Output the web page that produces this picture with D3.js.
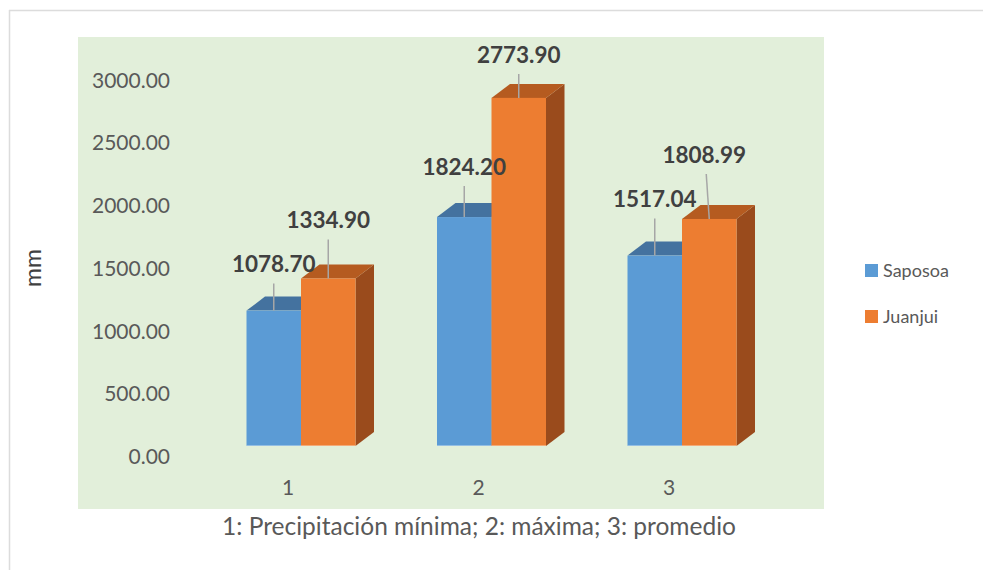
<!doctype html>
<html>

<head>
    <meta charset="utf-8">
    <title>Precipitación</title>
    <script src="https://cdnjs.cloudflare.com/ajax/libs/d3/7.8.5/d3.min.js"></script>
    <style>
        body { margin: 0; background: #fff; }
        text { font-family: Lato, "Open Sans", sans-serif; }
    </style>
</head>

<body>
    <svg width="983" height="570"></svg>
    <script>
        // data
        var categories = ["1", "2", "3"];
        var series = ["Saposoa", "Juanjui"];
        var saposoa = [1078.70, 1824.20, 1517.04];
        var juanjui = [1334.90, 2773.90, 1808.99];
        var yTicks = [0, 500, 1000, 1500, 2000, 2500, 3000];

        // how far each data label sits above its bar (manual layout)
        var labelLift = [[46, 58], [50, 43], [56, 64]];
        var labelShift = [[0, 0], [0, 0], [0, -5]];

        var colors = {
            Saposoa: { front: "#5b9bd5", top: "#44729f", side: "#3e6a94" },
            Juanjui: { front: "#ed7d31", top: "#b55b20", side: "#9a4b1c" }
        };

        var svg = d3.select("svg");

        // chart border (only top and left show in the picture)
        svg.append("line").attr("x1", 9).attr("x2", 983).attr("y1", 10.5).attr("y2", 10.5)
            .attr("stroke", "#dcdcdc").attr("stroke-width", 1.5);
        svg.append("line").attr("x1", 9.5).attr("x2", 9.5).attr("y1", 10).attr("y2", 570)
            .attr("stroke", "#dcdcdc").attr("stroke-width", 1.5);

        // plot area
        svg.append("rect").attr("x", 78).attr("y", 37).attr("width", 746).attr("height", 472)
            .attr("fill", "#e2efda");

        var y = d3.scaleLinear().domain([0, 3000]).range([446, 69.5]);
        var yLab = d3.scaleLinear().domain([0, 3000]).range([457, 80.5]);
        var x = d3.scaleBand().domain(categories).range([205.75, 777.25]).padding(0);
        var xs = d3.scaleBand().domain(series).range([0, 109]);
        var depthX = 18.5, depthY = -14;

        // y axis labels
        var yAxis = svg.append("g")
            .attr("transform", "translate(170,0)")
            .call(d3.axisLeft(yLab).tickValues(yTicks).tickFormat(d3.format(".2f")).tickSize(0).tickPadding(0));
        yAxis.select(".domain").remove();
        yAxis.selectAll("text").attr("fill", "#595959").style("font-size", "21px")
            .style("font-family", "Lato, 'Open Sans', sans-serif");

        svg.append("text")
            .attr("transform", "translate(41,268) rotate(-90)")
            .attr("text-anchor", "middle")
            .attr("fill", "#404040")
            .style("font-size", "23px")
            .text("mm");

        // category labels
        svg.selectAll(".cat").data(categories).enter().append("text")
            .attr("class", "cat")
            .attr("x", function (d) { return x(d) + x.bandwidth() / 2 - 13; })
            .attr("y", 488).attr("dy", "0.35em")
            .attr("text-anchor", "middle")
            .attr("fill", "#595959")
            .style("font-size", "21px")
            .text(function (d) { return d; });

        svg.append("text")
            .attr("x", 479).attr("y", 526).attr("dy", "0.35em")
            .attr("text-anchor", "middle")
            .attr("fill", "#595959")
            .style("font-size", "24.5px")
            .text("1: Precipitación mínima; 2: máxima; 3: promedio");

        // bars
        var rows = [];
        categories.forEach(function (c, i) {
            rows.push({ cat: c, i: i, s: "Saposoa", j: 0, v: saposoa[i] });
            rows.push({ cat: c, i: i, s: "Juanjui", j: 1, v: juanjui[i] });
        });

        function groupLeft(d) { return x(d.cat) + x.bandwidth() / 2 - xs.bandwidth(); }

        var bars = svg.selectAll(".bar").data(rows).enter().append("g").attr("class", "bar");
        bars.each(function (d) {
            var g = d3.select(this);
            var x0 = groupLeft(d) + xs(d.s), x1 = x0 + xs.bandwidth();
            var y0 = y(0), yt = y(d.v);
            // right side
            g.append("path")
                .attr("d", "M" + x1 + "," + yt + "L" + (x1 + depthX) + "," + (yt + depthY) +
                    "L" + (x1 + depthX) + "," + (y0 + depthY) + "L" + x1 + "," + y0 + "Z")
                .attr("fill", colors[d.s].side);
            // top
            g.append("path")
                .attr("d", "M" + x0 + "," + yt + "L" + (x0 + depthX) + "," + (yt + depthY) +
                    "L" + (x1 + depthX) + "," + (yt + depthY) + "L" + x1 + "," + yt + "Z")
                .attr("fill", colors[d.s].top);
            // front
            g.append("rect")
                .attr("x", x0).attr("y", yt)
                .attr("width", xs.bandwidth()).attr("height", y0 - yt)
                .attr("fill", colors[d.s].front);
            g.append("line")
                .attr("x1", x0).attr("x2", x1).attr("y1", y0 - 0.5).attr("y2", y0 - 0.5)
                .attr("stroke", "#ffffff").attr("stroke-opacity", 0.35);
        });

        // data labels with leader lines
        rows.forEach(function (d) {
            var cx = groupLeft(d) + xs(d.s) + xs.bandwidth() / 2;
            var yt = y(d.v);
            var ly = yt - labelLift[d.i][d.j];
            var lx = cx + labelShift[d.i][d.j];
            svg.append("line")
                .attr("x1", lx - labelShift[d.i][d.j] * 0.4).attr("y1", ly + 19)
                .attr("x2", cx).attr("y2", yt)
                .attr("stroke", "#a6a6a6").attr("stroke-width", 1.5);
            svg.append("text")
                .attr("x", lx).attr("y", ly).attr("dy", "0.35em")
                .attr("text-anchor", "middle")
                .attr("fill", "#404040")
                .style("font-size", "22.5px").style("font-weight", "bold")
                .text(d3.format(".2f")(d.v));
        });

        // legend
        var legend = svg.selectAll(".legend").data(series).enter().append("g")
            .attr("class", "legend")
            .attr("transform", function (d, i) { return "translate(865," + (264 + i * 46) + ")"; });
        legend.append("rect").attr("width", 13).attr("height", 13)
            .attr("fill", function (d) { return colors[d].front; });
        legend.append("text").attr("x", 18).attr("y", 6.5).attr("dy", "0.35em")
            .attr("fill", "#595959").style("font-size", "18px")
            .text(function (d) { return d; });
    </script>
</body>

</html>
